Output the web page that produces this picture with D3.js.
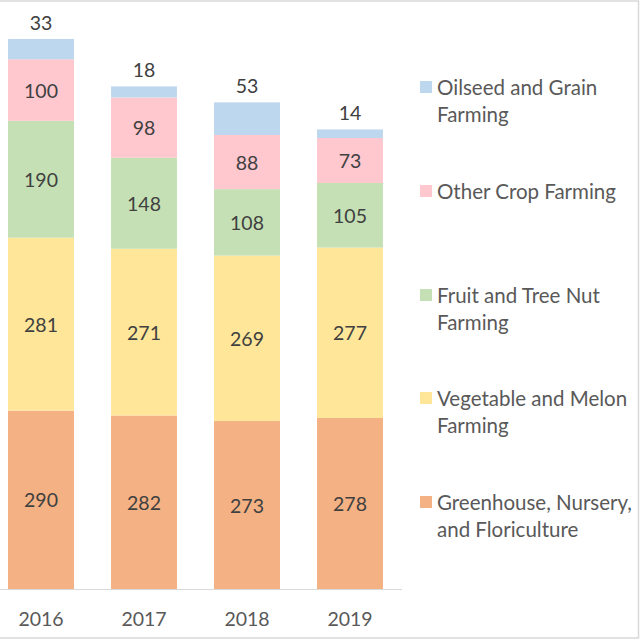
<!DOCTYPE html>
<html><head><meta charset="utf-8">
<script src="https://cdn.jsdelivr.net/npm/d3@7"></script>
<style>html,body{margin:0;padding:0;background:#fff;}svg{display:block;}</style>
</head><body>
<svg id="chart" width="640" height="640"></svg>
<script>
const years = ["2016", "2017", "2018", "2019"];
const seriesNames = ["Greenhouse, Nursery, and Floriculture", "Vegetable and Melon Farming", "Fruit and Tree Nut Farming", "Other Crop Farming", "Oilseed and Grain Farming"];
const greenhouse = [290, 282, 273, 278];
const vegetable = [281, 271, 269, 277];
const fruit = [190, 148, 108, 105];
const otherCrop = [100, 98, 88, 73];
const oilseed = [33, 18, 53, 14];
const colors = ["#F4B183", "#FFE699", "#C5E0B4", "#FFC7CE", "#BDD7EE"];
const legendLines = [
  ["Oilseed and Grain", "Farming"],
  ["Other Crop Farming"],
  ["Fruit and Tree Nut", "Farming"],
  ["Vegetable and Melon", "Farming"],
  ["Greenhouse, Nursery,", "and Floriculture"]
];
const legendColorIdx = [4, 3, 2, 1, 0];

const FONT = "Lato, 'Open Sans', sans-serif";
const svg = d3.select("#chart");

// frame
svg.append("rect").attr("x", -5).attr("y", 1).attr("width", 643.5).attr("height", 637)
  .attr("fill", "none").attr("stroke", "#d9d9d9").attr("stroke-width", 1.5);

const values = [greenhouse, vegetable, fruit, otherCrop, oilseed];
const table = years.map((y, i) => {
  const o = {year: y};
  seriesNames.forEach((s, k) => o[s] = values[k][i]);
  return o;
});
const stack = d3.stack().keys(seriesNames)(table);

const x = d3.scaleBand().domain(years).range([-10.5, 401.5]).paddingInner(0.36).paddingOuter(0.18);
const maxTotal = d3.max(table, d => d3.sum(seriesNames, s => d[s]));
const y = d3.scaleLinear().domain([0, maxTotal]).range([589, 39]);

const g = svg.append("g");
stack.forEach((layer, k) => {
  g.selectAll(null).data(layer).enter().append("rect")
    .attr("x", d => x(d.data.year))
    .attr("width", x.bandwidth())
    .attr("y", d => y(d[1]))
    .attr("height", d => y(d[0]) - y(d[1]))
    .attr("fill", colors[k]);
  g.selectAll(null).data(layer).enter().append("text")
    .attr("x", d => x(d.data.year) + x.bandwidth() / 2)
    .attr("y", d => k === seriesNames.length - 1 ? y(d[1]) - 17 : (y(d[0]) + y(d[1])) / 2)
    .attr("text-anchor", "middle").attr("dominant-baseline", "central")
    .attr("font-family", FONT).attr("font-size", 19.5).attr("fill", "#404040")
    .text(d => d[1] - d[0]);
});

// x axis
const xAxis = svg.append("g").attr("transform", "translate(0,589)")
  .call(d3.axisBottom(x).tickSize(0).tickPadding(0));
xAxis.select(".domain").attr("d", "M0,0.5H402").attr("stroke", "#d9d9d9").attr("stroke-width", 1.2);
xAxis.selectAll("text").attr("font-family", FONT).attr("font-size", 19.5).attr("fill", "#595959")
  .attr("dy", null).attr("y", 29).attr("dominant-baseline", "central");

// legend
const legendY = [87, 191, 295, 398, 502];
const lg = svg.append("g");
legendLines.forEach((lines, i) => {
  lg.append("rect").attr("x", 420).attr("y", legendY[i] - 6).attr("width", 12).attr("height", 12)
    .attr("fill", colors[legendColorIdx[i]]);
  lines.forEach((t, j) => {
    lg.append("text").attr("x", 437).attr("y", legendY[i] + j * 27)
      .attr("dominant-baseline", "central")
      .attr("font-family", FONT).attr("font-size", 20.5).attr("fill", "#595959").text(t);
  });
});
</script>
</body></html>
